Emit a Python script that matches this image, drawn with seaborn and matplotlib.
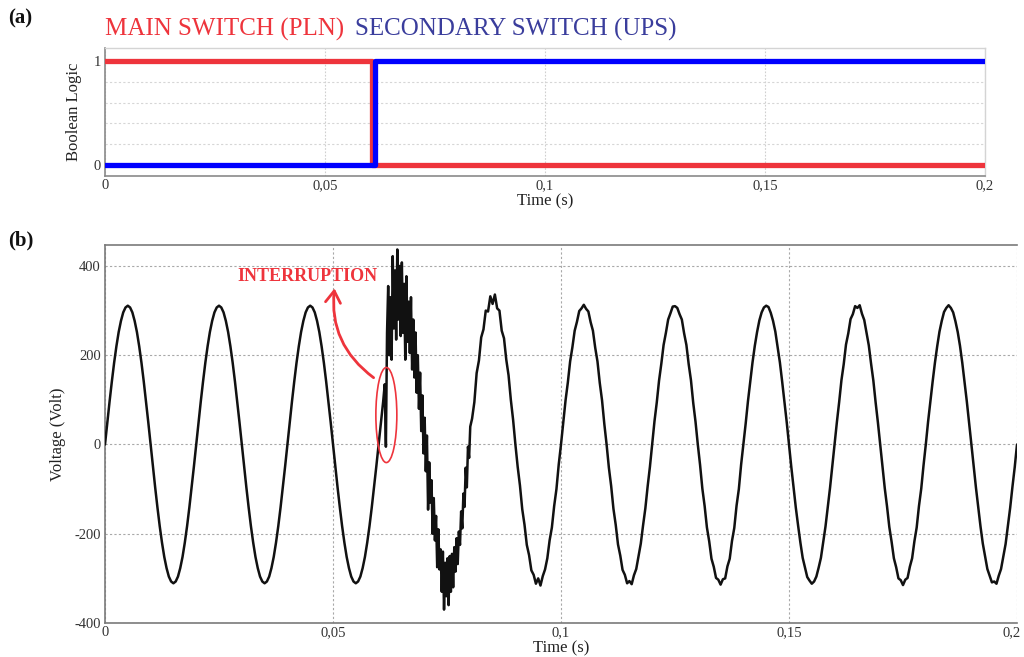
import numpy as np
import pandas as pd
import matplotlib
matplotlib.use("Agg")
import matplotlib.pyplot as plt
import matplotlib.transforms as mtransforms
import seaborn as sns
from matplotlib.patches import Ellipse

# ---------------- data ----------------
# Panel (a): switch states (Boolean)
main_time = [0.0, 0.0607, 0.0607, 0.2]
main_state = [1, 1, 0, 0]
ups_time = [0.0, 0.0614, 0.0614, 0.2]
ups_state = [0, 0, 1, 1]

# Panel (b): voltage waveform
pre_start, pre_step = 0.0, 0.0005
v_pre = [
    0, 49, 96, 141, 183, 220, 252, 277, 296, 307, 311, 307, 296, 277, 252, 220, 183, 141, 96, 49,
    0, -49, -96, -141, -183, -220, -252, -277, -296, -307, -311, -307, -296, -277, -252, -220, -183, -141, -96, -49,
    0, 49, 96, 141, 183, 220, 252, 277, 296, 307, 311, 307, 296, 277, 252, 220, 183, 141, 96, 49,
    0, -49, -96, -141, -183, -220, -252, -277, -296, -307, -311, -307, -296, -277, -252, -220, -183, -141, -96, -49,
    0, 49, 96, 141, 183, 220, 252, 277, 296, 307, 311, 307, 296, 277, 252, 220, 183, 141, 96, 49,
    0, -49, -96, -141, -183, -220, -252, -277, -296, -307, -311, -307, -296, -277, -252, -220, -183, -141, -96, -49,
    0, 49, 96,
]

trans_start, trans_step = 0.06135, 0.00025
v_trans = [
    135, -5, 250, 355, 200, 330, 190, 422, 260, 390,
    235, 437, 280, 400, 243, 408, 250, 360, 190, 377,
    230, 320, 205, 330, 168, 280, 150, 251, 116, 200,
    80, 161, 30, 110, -20, 60, -60, 20, -146, -40,
    -130, -80, -200, -120, -215, -160, -275, -190, -280, -235,
    -330, -240, -370, -265, -340, -255, -360, -250, -330, -245,
    -320, -230, -285, -210, -268, -195, -225, -150, -188, -110,
    -140, -52, -96, -5, -30, 40,
]

post_start, post_step = 0.0805, 0.0005
v_post = [
    58, 95, 160, 188, 240, 258, 300, 298, 332, 315, 336, 305, 300, 255, 238, 190, 155, 100, 55,
    0, -50, -92, -145, -180, -225, -248, -282, -292, -312, -300, -316, -295, -280, -255, -215, -186, -138, -100, -45,
    0, 49, 99, 139, 186, 218, 255, 275, 299, 305, 313, 304, 298, 274, 255, 217, 186, 138, 99, 46,
    0, -52, -93, -144, -180, -224, -249, -281, -292, -311, -306, -313, -293, -279, -250, -222, -181, -143, -94, -50,
    0, 52, 94, 143, 181, 223, 250, 280, 294, 309, 310, 306, 292, 280, 249, 223, 180, 144, 93, 51,
    0, -46, -99, -138, -186, -217, -256, -274, -299, -303, -314, -302, -300, -273, -256, -216, -187, -137, -100, -45,
    0, 47, 97, 140, 184, 221, 252, 278, 296, 307, 311, 308, 295, 277, 253, 219, 184, 141, 95, 50,
    0, -50, -95, -142, -182, -220, -254, -276, -297, -305, -312, -307, -296, -276, -254, -219, -184, -140, -97, -48,
    0, 50, 95, 144, 180, 224, 249, 281, 292, 310, 306, 312, 293, 279, 250, 222, 181, 143, 94, 49,
    0, -48, -98, -139, -185, -218, -255, -275, -300, -304, -315, -303, -299, -274, -255, -217, -186, -138, -99, -47,
    0, 51, 96, 141, 183, 220, 253, 277, 297, 306, 312, 306, 296, 276, 252, 221, 183, 140, 96, 49,
    0, -49, -97, -140, -184, -222, -251, -279, -294, -309, -307, -312, -294, -279, -251, -223, -182, -142, -95, -51,
    0,
]

x_ticks = [0, 0.05, 0.1, 0.15, 0.2]
x_tick_labels = ["0", "0,05", "0,1", "0,15", "0,2"]
bool_ticks = [0, 1]
bool_tick_labels = ["0", "1"]
volt_ticks = [-400, -200, 0, 200, 400]
volt_tick_labels = ["-400", "-200", "0", "200", "400"]

# ---------------- style ----------------
sns.set_theme(style="white")
plt.rcParams["font.family"] = ["Liberation Serif", "DejaVu Serif"]

RED = "#EE343C"
BLUE = "#0000FF"
TITLE_BLUE = "#3A3D9C"
TICK_COLOR = "#333333"

fig = plt.figure(figsize=(10.24, 6.57), dpi=100)
W, H = 1024, 657

def px_axes(left, top, right, bottom):
    return fig.add_axes([left / W, 1 - bottom / H, (right - left) / W, (bottom - top) / H])

# ---------------- panel (a) ----------------
ax1 = px_axes(105, 48, 985, 176)
df_main = pd.DataFrame({"t": main_time, "s": main_state})
df_ups = pd.DataFrame({"t": ups_time, "s": ups_state})
sns.lineplot(data=df_main, x="t", y="s", ax=ax1, color=RED, lw=3.8,
             estimator=None, sort=False, zorder=3)
sns.lineplot(data=df_ups, x="t", y="s", ax=ax1, color=BLUE, lw=3.8,
             estimator=None, sort=False, zorder=4)
ax1.set_xlim(0, 0.2)
ax1.set_ylim(-0.105, 1.125)
ax1.set_xticks(x_ticks)
ax1.set_xticklabels(x_tick_labels)
ax1.set_yticks(bool_ticks)
ax1.set_yticklabels(bool_tick_labels)
ax1.set_yticks([0.2, 0.4, 0.6, 0.8], minor=True)
ax1.grid(True, axis="x", which="major", color="#cfcfcf", lw=0.8, ls=(0, (1.5, 1.5)))
ax1.grid(True, axis="y", which="minor", color="#d6d6d6", lw=0.8, ls=(0, (2, 2)))
ax1.grid(False, axis="y", which="major")
ax1.tick_params(axis="both", which="both", length=0, labelsize=10.5, colors=TICK_COLOR, pad=3)
ax1.tick_params(axis="x", pad=2)
for side in ["left", "bottom"]:
    ax1.spines[side].set_color("#8a8a8a")
    ax1.spines[side].set_linewidth(1.2)
for side in ["top", "right"]:
    ax1.spines[side].set_color("#d4d4d4")
    ax1.spines[side].set_linewidth(1.0)
ax1.set_xlabel("Time (s)", fontsize=12, color="#222222", labelpad=1)
ax1.set_ylabel("Boolean Logic", fontsize=12, color="#222222", labelpad=8)

# ---------------- panel (b) ----------------
ax2 = px_axes(105, 245, 1017, 623)
t_pre = pre_start + pre_step * np.arange(len(v_pre))
t_trans = trans_start + trans_step * np.arange(len(v_trans))
t_post = post_start + post_step * np.arange(len(v_post))
df_v = pd.DataFrame({
    "t": np.concatenate([t_pre, t_trans, t_post]),
    "v": np.concatenate([v_pre, v_trans, v_post]),
})
sns.lineplot(data=df_v, x="t", y="v", ax=ax2, color="#111111", lw=1.8,
             estimator=None, sort=False, zorder=3)
ax2.set_xlim(0, 0.2)
ax2.set_ylim(-400, 447)
ax2.set_xticks(x_ticks)
ax2.set_xticklabels(x_tick_labels)
ax2.set_yticks(volt_ticks)
ax2.set_yticklabels(volt_tick_labels)
ax2.grid(True, color="#a8a8a8", lw=0.8, ls=(0, (2, 2)))
ax2.tick_params(axis="both", length=0, labelsize=10.5, colors=TICK_COLOR, pad=3)
ax2.tick_params(axis="x", pad=2)
for side in ["left", "bottom", "top"]:
    ax2.spines[side].set_color("#7a7a7a")
    ax2.spines[side].set_linewidth(1.2)
ax2.spines["right"].set_visible(False)
ax2.set_xlabel("Time (s)", fontsize=12, color="#222222", labelpad=1)
ax2.set_ylabel("Voltage (Volt)", fontsize=12, color="#222222", labelpad=6)

# keep the last tick label inside the figure edge
last_lbl = ax2.get_xticklabels()[-1]
last_lbl.set_transform(last_lbl.get_transform() +
                       mtransforms.ScaledTranslation(-5 / 100, 0, fig.dpi_scale_trans))

# annotation of the interruption
ax2.add_patch(Ellipse((0.0617, 66), width=0.0046, height=213, fill=False,
                      edgecolor=RED, lw=1.2, zorder=5))
ax2.annotate("", xy=(0.0504, 356), xytext=(0.0594, 146),
             arrowprops=dict(arrowstyle="->,head_length=0.7,head_width=0.45",
                             color=RED, lw=2.0,
                             connectionstyle="arc3,rad=-0.3"), zorder=5)
ax2.text(0.0445, 377, "INTERRUPTION", color=RED, fontsize=13, fontweight="bold",
         ha="center", va="center", zorder=6)

# ---------------- titles / panel labels ----------------
fig.text(105 / W, 1 - 29 / H, "MAIN SWITCH (PLN)", color=RED, fontsize=18,
         ha="left", va="center")
fig.text(355 / W, 1 - 29 / H, "SECONDARY SWITCH (UPS)", color=TITLE_BLUE, fontsize=18,
         ha="left", va="center")
fig.text(8 / W, 1 - 18 / H, "(a)", fontsize=15, fontweight="bold", color="#111111",
         ha="left", va="center")
fig.text(8 / W, 1 - 240 / H, "(b)", fontsize=15, fontweight="bold", color="#111111",
         ha="left", va="center")

fig.savefig("out.png", dpi=100)
